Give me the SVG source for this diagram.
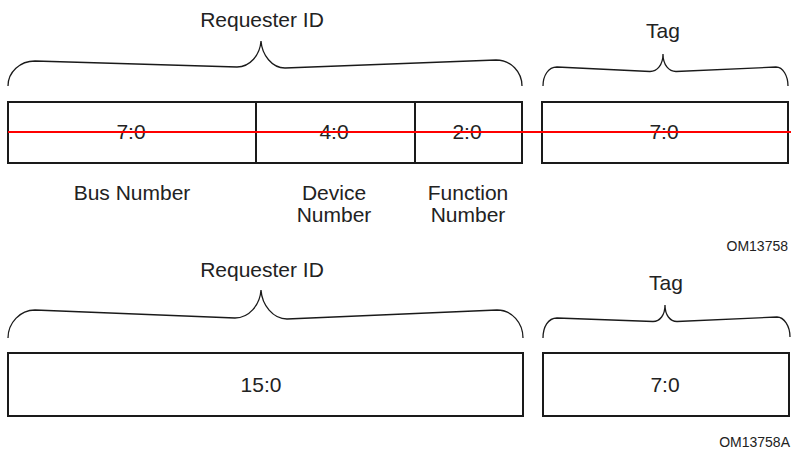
<svg xmlns="http://www.w3.org/2000/svg" width="791" height="456" viewBox="0 0 791 456">
<style>
.box{fill:#fff;stroke:#1a1a1a;stroke-width:2}
.div{stroke:#1a1a1a;stroke-width:2}
.brace{fill:none;stroke:#1a1a1a;stroke-width:1.3}
.t{font-family:"Liberation Sans",Arial,sans-serif;font-size:21px;fill:#222;text-anchor:middle}
.om{font-family:"Liberation Sans",Arial,sans-serif;font-size:14px;fill:#222;text-anchor:end}
.red{stroke:#ff0000;stroke-width:2}
</style>
<rect width="791" height="456" fill="#fff"/>
<g id="top-requester-brace">
<path class="brace" d="M8,86 C8,72 20,61 35,61 L237,67 C250,67 260,55 261,41 C262,55 272,68 285,68 L496,60 C511,60 522,72 522,86"/>
<text class="t" x="262" y="27">Requester ID</text>
</g>
<g id="top-tag-brace">
<path class="brace" d="M543,86 C543,76 548,67 557,67 L650,71.5 C657,71.5 663,65 663,54 C663,65 669,71.5 676,71.5 L776,67 C783,67 788,76 788,86"/>
<text class="t" x="663" y="38">Tag</text>
</g>
<g id="top-requester-box">
<rect class="box" x="8" y="102" width="514" height="61"/>
<line class="div" x1="256" y1="102" x2="256" y2="163"/>
<line class="div" x1="415" y1="102" x2="415" y2="163"/>
<text class="t" x="131" y="139">7:0</text>
<text class="t" x="334" y="139">4:0</text>
<text class="t" x="467" y="139">2:0</text>
</g>
<g id="top-tag-box">
<rect class="box" x="542" y="102" width="246" height="61"/>
<text class="t" x="664" y="139">7:0</text>
</g>
<g id="top-labels">
<text class="t" x="132" y="200">Bus Number</text>
<text class="t" x="334" y="200">Device</text>
<text class="t" x="334" y="222">Number</text>
<text class="t" x="468" y="200">Function</text>
<text class="t" x="468" y="222">Number</text>
<text class="om" x="788" y="251">OM13758</text>
</g>
<g id="connectors">
<line class="red" x1="8" y1="132" x2="791" y2="132"/>
</g>
<g id="bottom-requester-brace">
<path class="brace" d="M8,338 C8,323 20,310 35,310 L235,318 C249,318 260,305 261,290 C262,305 273,319 287,319 L497,310 C512,310 523,323 523,338"/>
<text class="t" x="262" y="277">Requester ID</text>
</g>
<g id="bottom-tag-brace">
<path class="brace" d="M543,338 C543,327 548,318 557,318 L653,321.5 C660,321.5 665,315 665,305 C665,315 670,321.5 677,321.5 L777,317 C784,317 790,326 790,337"/>
<text class="t" x="666" y="290">Tag</text>
</g>
<g id="bottom-requester-box">
<rect class="box" x="8" y="353" width="515" height="63"/>
<text class="t" x="261" y="392">15:0</text>
</g>
<g id="bottom-tag-box">
<rect class="box" x="543" y="353" width="246" height="63"/>
<text class="t" x="665" y="392">7:0</text>
</g>
<g id="bottom-labels">
<text class="om" x="790" y="447">OM13758A</text>
</g>
</svg>
